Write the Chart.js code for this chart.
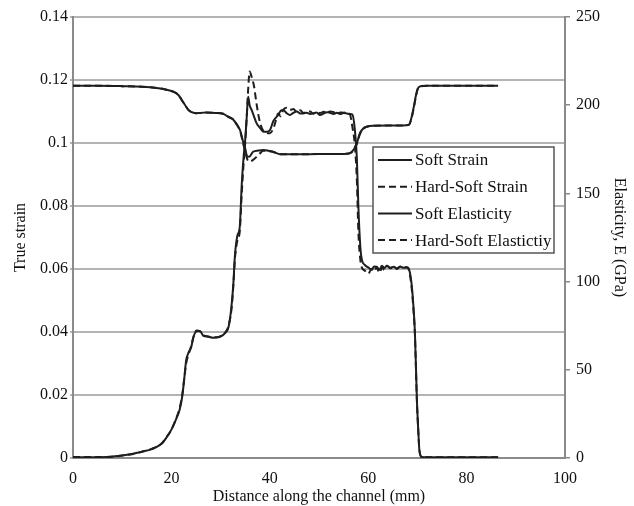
<!DOCTYPE html>
<html>
<head>
<meta charset="utf-8">
<script src="https://cdn.jsdelivr.net/npm/chart.js@4.4.1/dist/chart.umd.min.js"></script>
<style>
  html, body { margin: 0; padding: 0; background: #fff; }
  #wrap { width: 634px; height: 506px; }
</style>
</head>
<body>
<div id="wrap"><canvas id="strainChart" width="634" height="506"></canvas></div>
<script>
// distance along the channel (mm) for the strain curves
const strainDistance = [0, 4, 8, 10, 12, 14, 16, 18, 19, 20, 21, 21.7, 22.2, 22.6, 23, 23.5, 24, 24.5, 25.1, 25.8,
  26.5, 27.5, 28.5, 29.9, 31, 31.6, 32.2, 32.6, 32.9, 33.4, 33.9, 34.3, 34.7, 35, 35.3, 35.6, 35.9, 36.3, 36.8, 37.3,
  38, 38.7, 39.4, 40, 40.7, 41.2, 41.7, 42.2, 42.7, 43.4, 44.1, 44.8, 45.5, 46.2, 46.8, 47.5, 48.2, 48.8, 49.5, 50.2,
  51, 51.6, 52.2, 53, 53.6, 54.3, 55, 55.6, 56.3, 56.8, 57.3, 57.7, 58, 58.4, 58.7, 59.3, 60, 60.7, 61.2, 61.7,
  62.3, 62.8, 63.3, 63.8, 64.5, 65.2, 65.8, 66.5, 67.2, 67.8, 68.2, 68.8, 69.2, 69.5, 69.9, 70.2, 70.4, 70.9,
  72, 76, 80, 84, 86.4];

const softStrain = [0.0003, 0.0002, 0.0005, 0.0008, 0.0013, 0.002, 0.0028, 0.0045, 0.0065, 0.009, 0.0125, 0.0155, 0.0195, 0.025, 0.031, 0.0335, 0.035, 0.0385, 0.0402, 0.0403,
  0.0388, 0.0385, 0.0382, 0.0385, 0.0398, 0.0415, 0.048, 0.0555, 0.064, 0.0705, 0.0735, 0.087, 0.096, 0.101, 0.108, 0.1147, 0.112, 0.1105, 0.1084, 0.1063,
  0.1048, 0.1036, 0.1036, 0.104, 0.1069, 0.108, 0.1089, 0.1102, 0.1105, 0.1095, 0.1089, 0.1096, 0.11, 0.1094, 0.1094, 0.1096, 0.1092, 0.1094, 0.1097, 0.1089,
  0.1094, 0.1098, 0.1096, 0.1092, 0.1096, 0.1092, 0.1095, 0.1094, 0.1092, 0.109, 0.104, 0.095, 0.08, 0.067, 0.063, 0.0613, 0.0605, 0.0598, 0.0608, 0.0607,
  0.0598, 0.061, 0.0603, 0.061, 0.0604, 0.0607, 0.0602, 0.0607, 0.0604, 0.0605, 0.0602, 0.0555, 0.048, 0.0397, 0.0184, 0.008, 0.0025, 0.0003,
  0.0002, 0.0002, 0.0002, 0.0002, 0.0002];

const hardSoftStrain = [0.0003, 0.0003, 0.0004, 0.0008, 0.0012, 0.002, 0.0029, 0.0046, 0.0066, 0.009, 0.0127, 0.016, 0.02, 0.025, 0.03, 0.033, 0.0355, 0.0385, 0.0405, 0.0402,
  0.039, 0.0386, 0.0383, 0.0386, 0.04, 0.042, 0.047, 0.055, 0.063, 0.069, 0.072, 0.084, 0.094, 0.1, 0.108, 0.117, 0.1227, 0.121, 0.118, 0.1125,
  0.1065, 0.1038, 0.1032, 0.1031, 0.1045, 0.107, 0.1094, 0.1085, 0.1105, 0.1112, 0.1105, 0.1108, 0.1098, 0.1104, 0.1095, 0.1099, 0.11, 0.1093, 0.1099, 0.1095,
  0.1099, 0.1093, 0.11, 0.1098, 0.1093, 0.1097, 0.1096, 0.1097, 0.109, 0.105, 0.099, 0.088, 0.072, 0.063, 0.0605, 0.0595, 0.0585, 0.06, 0.0592, 0.0605,
  0.0588, 0.0605, 0.0597, 0.061, 0.0602, 0.0608, 0.06, 0.0608, 0.0603, 0.0606, 0.06, 0.0545, 0.047, 0.039, 0.018, 0.008, 0.0025, 0.0003,
  0.0002, 0.0002, 0.0002, 0.0002, 0.0002];

// distance (mm) and elastic modulus (GPa) for the elasticity curves
const elasticityDistance = [0, 5, 10, 14, 17, 19, 20.5, 21.5, 22.2, 22.8, 23.4, 24, 25, 27, 29, 30.5, 31.5, 32.5, 33.3, 34,
  34.6, 35, 35.4, 35.8, 36.6, 37.7, 38.7, 39.7, 40.7, 42.1, 46, 50, 54, 56, 56.6, 57.2, 57.7, 58.3, 58.9, 59.7,
  61, 64, 67, 68.3, 68.8, 69.3, 69.7, 70.1, 70.6, 72, 80, 86.4];

const softElasticity = [211, 211, 210.8, 210.5, 209.8, 208.8, 207.5, 205.5, 202.5, 200, 197.5, 196.2, 195.5, 195.8, 195.6, 195.2, 193.5, 192, 189, 185.5,
  179, 175.5, 171, 170.8, 173.6, 174.3, 174.6, 174.2, 173.6, 172.2, 172.2, 172.3, 172.3, 172.6, 173.5, 175.5, 178.5, 184, 186.5, 187.8,
  188.4, 188.5, 188.5, 189, 193, 199.5, 205.5, 209.5, 210.8, 211, 211, 211];

const hardSoftElasticity = [211, 211, 210.8, 210.5, 209.8, 208.8, 207.5, 205.5, 202.5, 200, 197.5, 196.2, 195.5, 195.8, 195.6, 195.2, 193.5, 192, 189, 185,
  178, 174, 169.5, 168, 169, 171.8, 174.2, 174, 173.5, 172.2, 172.2, 172.3, 172.3, 172.6, 173.2, 175, 178, 183.5, 186.5, 187.8,
  188.4, 188.5, 188.5, 189, 192.5, 199, 205, 209.5, 210.8, 211, 211, 211];

const distanceTicks = [0, 20, 40, 60, 80, 100];
const strainTicks = [0, 0.02, 0.04, 0.06, 0.08, 0.1, 0.12, 0.14];
const elasticityTicks = [0, 50, 100, 150, 200, 250];

const seriesLabels = ['Soft Strain', 'Hard-Soft Strain', 'Soft Elasticity', 'Hard-Soft Elastictiy'];

const serif = '"Liberation Serif", "Times New Roman", serif';
const ink = '#1e1e1e';
const dash = [7, 4];

function points(xs, ys) {
  return xs.map((x, i) => ({ x: x, y: ys[i] }));
}

// boxed legend sitting inside the plot, right of centre
const boxLegend = {
  id: 'boxLegend',
  afterDraw(chart) {
    const ctx = chart.ctx;
    const area = chart.chartArea;
    const x = area.right - 192, y = area.top + 130, w = 181, h = 106;
    ctx.save();
    ctx.fillStyle = '#fff';
    ctx.fillRect(x, y, w, h);
    ctx.strokeStyle = '#555';
    ctx.lineWidth = 1.5;
    ctx.strokeRect(x, y, w, h);
    ctx.font = '17px ' + serif;
    ctx.textBaseline = 'middle';
    chart.data.datasets.forEach(function(ds, i) {
      const ly = y + 13 + i * 26.7;
      ctx.beginPath();
      ctx.setLineDash(ds.borderDash || []);
      ctx.strokeStyle = ds.borderColor;
      ctx.lineWidth = ds.borderWidth;
      ctx.moveTo(x + 5, ly);
      ctx.lineTo(x + 39, ly);
      ctx.stroke();
      ctx.setLineDash([]);
      ctx.fillStyle = '#111';
      ctx.fillText(ds.label, x + 42, ly + 1);
    });
    ctx.restore();
  }
};

const data = {
  datasets: [
    { label: seriesLabels[0], data: points(strainDistance, softStrain), yAxisID: 'y',
      borderColor: ink, borderWidth: 2, borderDash: [] },
    { label: seriesLabels[1], data: points(strainDistance, hardSoftStrain), yAxisID: 'y',
      borderColor: ink, borderWidth: 2, borderDash: dash },
    { label: seriesLabels[2], data: points(elasticityDistance, softElasticity), yAxisID: 'y1',
      borderColor: ink, borderWidth: 2, borderDash: [] },
    { label: seriesLabels[3], data: points(elasticityDistance, hardSoftElasticity), yAxisID: 'y1',
      borderColor: ink, borderWidth: 2, borderDash: dash }
  ]
};

const config = {
  type: 'line',
  data: data,
  options: {
    responsive: false,
    animation: false,
    layout: { padding: { top: 17, left: 0, right: 0, bottom: 0 } },
    elements: { point: { radius: 0 }, line: { cubicInterpolationMode: 'monotone' } },
    plugins: { legend: { display: false }, tooltip: { enabled: false } },
    scales: {
      x: {
        type: 'linear', min: 0, max: 100,
        afterFit: s => { s.height = 48; },
        afterBuildTicks: s => { s.ticks = distanceTicks.map(v => ({ value: v })); },
        grid: { display: false, drawTicks: false },
        border: { color: '#8a8a8a', width: 2 },
        ticks: { color: '#111', font: { family: serif, size: 16 }, padding: 11, maxRotation: 0 },
        title: { display: true, text: 'Distance along the channel (mm)', color: '#111',
          font: { family: serif, size: 16 }, padding: { top: 0, bottom: 0 } }
      },
      y: {
        position: 'left', min: 0, max: 0.14,
        afterFit: s => { s.width = 73; },
        afterBuildTicks: s => { s.ticks = strainTicks.map(v => ({ value: v })); },
        grid: { color: '#b4b4b4', lineWidth: 2, tickLength: 3 },
        border: { color: '#8a8a8a', width: 2 },
        ticks: { color: '#111', font: { family: serif, size: 16 }, padding: 2,
          callback: v => String(+v.toFixed(2)) },
        title: { display: true, text: 'True strain', color: '#111',
          font: { family: serif, size: 16 }, padding: { top: 11, bottom: 0 } }
      },
      y1: {
        position: 'right', min: 0, max: 250,
        afterFit: s => { s.width = 69; },
        afterBuildTicks: s => { s.ticks = elasticityTicks.map(v => ({ value: v })); },
        grid: { drawOnChartArea: false, color: '#8a8a8a', lineWidth: 1.5, tickLength: 5 },
        border: { color: '#8a8a8a', width: 2 },
        ticks: { color: '#111', font: { family: serif, size: 16 }, padding: 6 },
        title: { display: true, text: 'Elasticity, E (GPa)', color: '#111',
          font: { family: serif, size: 16 }, padding: { top: 5, bottom: 0 } }
      }
    }
  },
  plugins: [boxLegend]
};

const ctx = document.getElementById('strainChart').getContext('2d');
const strainChart = new Chart(ctx, config);
</script>
</body>
</html>
